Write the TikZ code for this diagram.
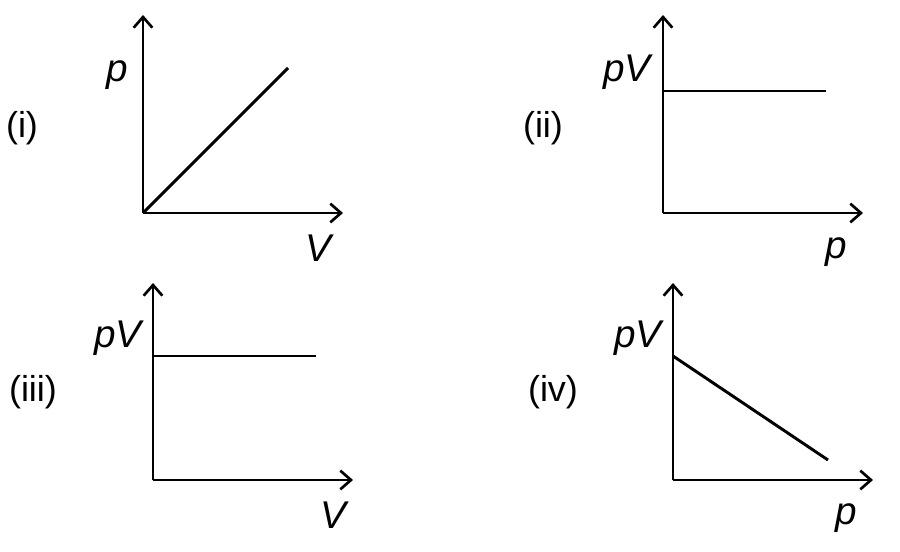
\documentclass[tikz,border=0pt]{standalone}
\usepackage{fontspec}
\setmainfont{Liberation Sans}
\begin{document}
\tikzset{every picture/.style={line width=2.2pt}}
\tikzset{lbl/.style={font=\fontsize{29}{29}\selectfont\itshape, inner sep=0pt}}
\tikzset{tag/.style={font=\fontsize{27}{27}\selectfont, inner sep=0pt}}
\tikzset{ax/.style={line width=2pt, ->, >={Straight Barb[length=8pt,width=14pt]}}}
\usetikzlibrary{arrows.meta}

\begin{tikzpicture}[x=0.75pt,y=0.75pt,yscale=-1,xscale=1]
\useasboundingbox (0,0) rectangle (900,552);

%Panel (i)
\coordinate (o1) at (143,213);
\draw [ax] (o1) -- (143,15) ;
\draw [ax] (o1) -- (343,213) ;
\draw (o1) -- (288,68) ;
\node [lbl] (p1) at (117,75) {p};
\node [lbl] (v1) at (318,248) {V};
\node [tag] (t1) at (22,128) {(i)};

%Panel (ii)
\coordinate (o2) at (663,213);
\draw [ax] (o2) -- (663,15) ;
\draw [ax] (o2) -- (863,213) ;
\draw (663,91) -- (826,91) ;
\node [lbl] (pv2) at (627,72) {pV};
\node [lbl] (p2) at (836,252) {p};
\node [tag] (t2) at (543,128) {(ii)};

%Panel (iii)
\coordinate (o3) at (153,480);
\draw [ax] (o3) -- (153,283) ;
\draw [ax] (o3) -- (353,480) ;
\draw (153,356) -- (316,356) ;
\node [lbl] (pv3) at (118,338) {pV};
\node [lbl] (v3) at (333,515) {V};
\node [tag] (t3) at (33,392) {(iii)};

%Panel (iv)
\coordinate (o4) at (673,480);
\draw [ax] (o4) -- (673,283) ;
\draw [ax] (o4) -- (873,480) ;
\draw (673,356) -- (828,460) ;
\node [lbl] (pv4) at (638,338) {pV};
\node [lbl] (p4) at (846,518) {p};
\node [tag] (t4) at (553,392) {(iv)};

\end{tikzpicture}
\end{document}
